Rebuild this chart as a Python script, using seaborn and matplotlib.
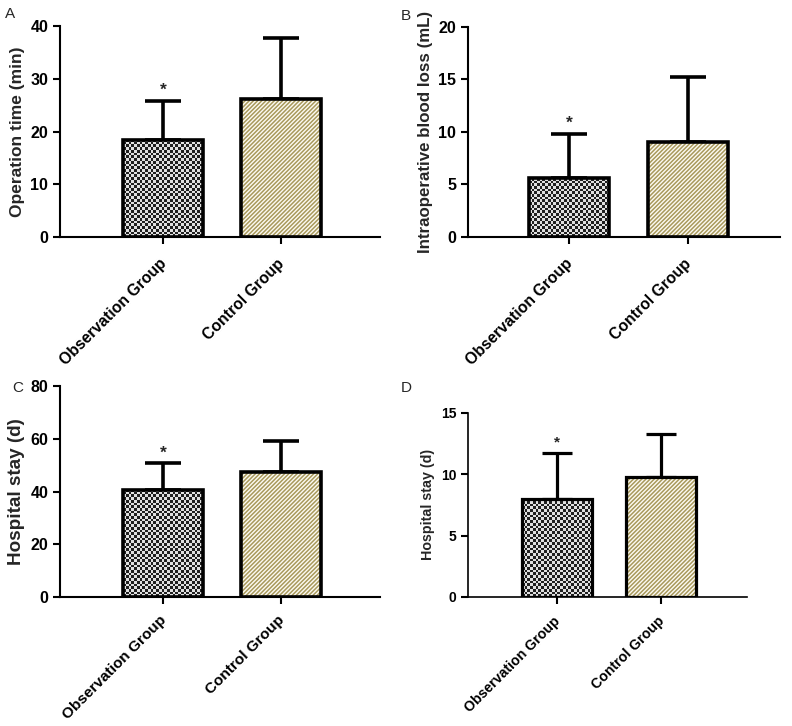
import numpy as np
import pandas as pd
import matplotlib
matplotlib.use("Agg")
import matplotlib.pyplot as plt
from matplotlib.colors import ListedColormap
from matplotlib.patches import Rectangle
from matplotlib.transforms import ScaledTranslation
import seaborn as sns

# ---------------- data ----------------
categories = ["Observation Group", "Control Group"]
op_time_mean = [18.4, 26.2]
op_time_sd = [7.4, 11.5]
blood_loss_mean = [5.6, 9.0]
blood_loss_sd = [4.2, 6.2]
stay_c_mean = [40.6, 47.5]
stay_c_sd = [10.1, 11.6]
stay_d_mean = [8.0, 9.8]
stay_d_sd = [3.75, 3.45]

panel_letters = ["A", "B", "C", "D"]
ylabels = ["Operation time (min)", "Intraoperative blood loss (mL)",
           "Hospital stay (d)", "Hospital stay (d)"]
yticks_list = [[0, 10, 20, 30, 40], [0, 5, 10, 15, 20],
               [0, 20, 40, 60, 80], [0, 5, 10, 15]]

sns.set_theme(style="ticks")
plt.rcParams["font.family"] = ["Liberation Sans", "DejaVu Sans"]
plt.rcParams["hatch.linewidth"] = 1.1

fig = plt.figure(figsize=(7.92, 7.26), dpi=100)

W, H = 792, 726
def box(l, r, t, b):
    return [l / W, 1 - b / H, (r - l) / W, (b - t) / H]

axes_boxes = [box(60, 380, 26, 237), box(468, 780, 26.7, 237),
              box(60, 380, 386, 597), box(468, 747, 412.7, 597)]
xlims = [(-0.873, 1.84), (-0.849, 1.773), (-0.873, 1.84), (-0.856, 1.827)]
means = [op_time_mean, blood_loss_mean, stay_c_mean, stay_d_mean]
sds = [op_time_sd, blood_loss_sd, stay_c_sd, stay_d_sd]
small = [False, False, False, True]
ylab_sizes = [12.5, 12.2, 13.6, 10.3]
tick_sizes = [11.5, 11.5, 11.5, 10]
xtick_sizes = [11.3, 11.3, 11.1, 10.2]
xtick_dy = [-0.07, -0.07, -0.045, -0.05]
letter_pos = [(5, 18), (401, 20), (12, 392), (401, 392)]

checker_cmap = ListedColormap(["#202020", "#e0e0e0"])
olive = "#a8995c"

for i in range(4):
    ax = fig.add_axes(axes_boxes[i])
    df = pd.DataFrame({"group": categories, "value": means[i]})
    sns.barplot(data=df, x="group", y="value", ax=ax, width=0.675,
                errorbar=None, color="white", saturation=1)
    fs_tick = tick_sizes[i]
    lw_edge = 2.3 if small[i] else 2.6
    ylim_top = yticks_list[i][-1]
    ax.set_xlim(*xlims[i])
    ax.set_ylim(0, ylim_top)

    # error bars (upper only)
    yerr = np.array([[0, 0], sds[i]])
    ax.errorbar(x=[0, 1], y=means[i], yerr=yerr, fmt="none", ecolor="black",
                elinewidth=lw_edge, capsize=13 if not small[i] else 11,
                capthick=lw_edge, zorder=1)

    bars = list(ax.patches)
    for j, p in enumerate(bars):
        x0, y0, w, h = p.get_x(), p.get_y(), p.get_width(), p.get_height()
        if j == 0:
            px = ax.transData.transform([[x0, y0], [x0 + w, y0 + h]])
            wpx = abs(px[1, 0] - px[0, 0])
            hpx = abs(px[1, 1] - px[0, 1])
            nx = max(int(round(wpx / 2.7)), 2)
            ny = max(int(round(hpx / 2.7)), 2)
            arr = (np.add.outer(np.arange(ny), np.arange(nx)) % 2).astype(float)
            ax.imshow(arr, cmap=checker_cmap, extent=[x0, x0 + w, y0, y0 + h],
                      aspect="auto", interpolation="nearest", zorder=1.5,
                      origin="lower")
            p.set_facecolor("none")
            p.set_edgecolor("black")
            p.set_linewidth(lw_edge)
            p.set_zorder(2)
        else:
            p.set_facecolor("#fdfbf3")
            p.set_edgecolor(olive)
            p.set_hatch("////////")
            p.set_linewidth(0)
            p.set_zorder(1.5)
            ax.add_patch(Rectangle((x0, y0), w, h, fill=False, edgecolor="black",
                                   linewidth=lw_edge, zorder=2))
    ax.set_xlim(*xlims[i])
    ax.set_ylim(0, ylim_top)

    # asterisk
    ax.annotate("*", xy=(0, means[i][0] + sds[i][0]), xytext=(0, 2),
                textcoords="offset points", ha="center", va="bottom",
                fontsize=fs_tick + 1, fontweight="bold")

    ax.set_yticks(yticks_list[i])
    ax.set_xlabel("")
    ax.set_ylabel(ylabels[i], fontsize=ylab_sizes[i], fontweight="bold", labelpad=4)
    for s in ["top", "right"]:
        ax.spines[s].set_visible(False)
    for s in ["left", "bottom"]:
        ax.spines[s].set_linewidth(1.5 if not small[i] else 1.2)
        ax.spines[s].set_color("black")
    ax.tick_params(axis="both", direction="out", length=5, width=1.5,
                   colors="black", labelsize=fs_tick)
    for t in ax.get_yticklabels():
        t.set_fontweight("bold")
    ax.set_xticks([0, 1])
    ax.set_xticklabels(categories, rotation=45, ha="right",
                       rotation_mode="anchor", fontweight="bold",
                       fontsize=xtick_sizes[i])
    off = ScaledTranslation(-0.04, xtick_dy[i], fig.dpi_scale_trans)
    for t in ax.get_xticklabels():
        t.set_transform(t.get_transform() + off)

    fig.text(letter_pos[i][0] / W, 1 - letter_pos[i][1] / H, panel_letters[i],
             fontsize=11, ha="left", va="baseline")

fig.savefig("out.png", dpi=100)
